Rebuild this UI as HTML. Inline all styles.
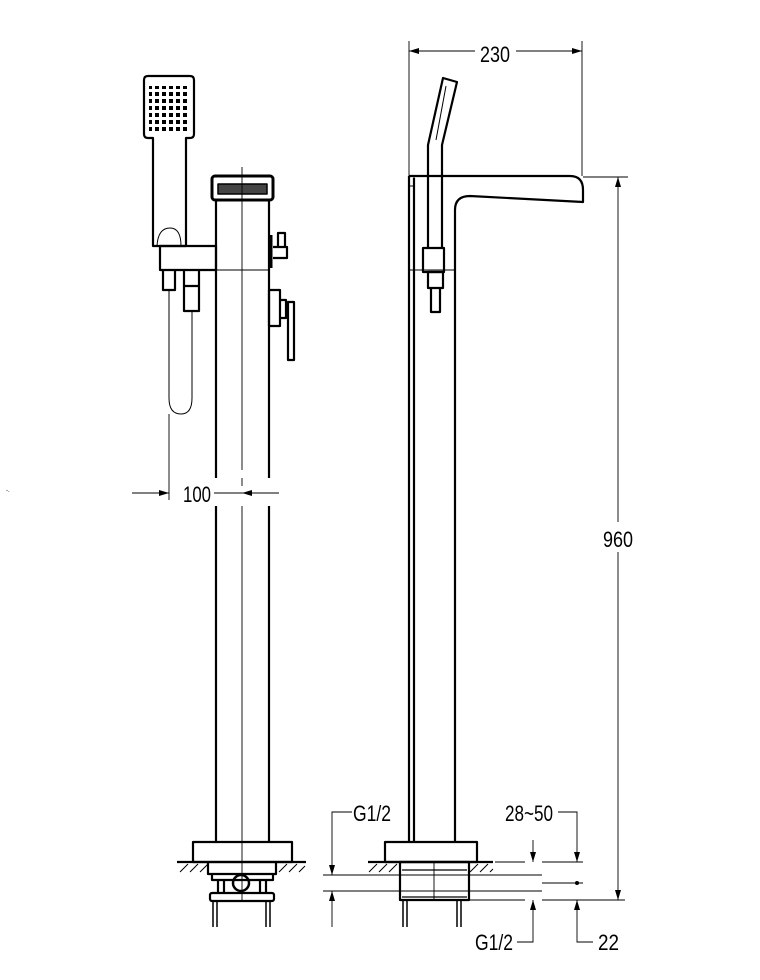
<!DOCTYPE html>
<html><head><meta charset="utf-8"><style>
html,body{margin:0;padding:0;background:#fff;}
svg{display:block;}
text{font-family:"Liberation Sans",sans-serif;font-size:22px;fill:#000;}
</style></head><body>
<svg width="760" height="980" viewBox="0 0 760 980" xmlns="http://www.w3.org/2000/svg">
<defs>
<marker id="a" viewBox="0 0 10 6" refX="10" refY="3" markerWidth="15" markerHeight="6" markerUnits="userSpaceOnUse" orient="auto-start-reverse"><path d="M0,0 L10,3 L0,6 Z" fill="#000"/></marker>
<pattern id="dots" width="7" height="7" patternUnits="userSpaceOnUse"><rect x="1" y="1" width="4" height="4" fill="#000"/></pattern>
</defs>
<g fill="none" stroke="#000" stroke-width="2.2" stroke-linejoin="round">
<path d="M148,76 H190 Q194,76 194,80 V134 Q194,138 190,138 H186 V246 H153 V138 H148 Q144,138 144,134 V80 Q144,76 148,76 Z"/>
<rect x="149" y="86" width="38" height="45" fill="url(#dots)" stroke="none"/>
<path d="M157,246 Q158,228 170,228 Q181,228 181,246" stroke-width="1"/>
<rect x="160" y="246" width="56" height="24"/>
<path d="M163,270 V290 H175 V270 M184,270 V311 H199 V270 M184,286 H199"/>
<path d="M169,290 V398 Q169,414 181,414 Q192,414 192,398 V311" stroke-width="1"/>
<rect x="212" y="176" width="61" height="24" rx="3" stroke-width="3"/>
<rect x="218" y="184" width="49" height="10" fill="#444" stroke-width="1.5"/>
<path d="M216,200 V478 M216,506 V842 M269,200 V478 M269,506 V842"/>
<path d="M216,270 H269" stroke-width="1"/>
<path d="M271,235 V268" stroke-width="3"/>
<path d="M273,247 H287 V258 H273 M278,247 V233 H285 V247"/>
<rect x="269" y="290" width="11" height="36"/>
<path d="M280,300 H286 V318 H280"/>
<rect x="288" y="302" width="6" height="58"/>
<rect x="193" y="842" width="99" height="20"/>
<path d="M177,862 H306" />
<path d="M208,862 V874 H276 V862 M212,874 V880 H273 V874"/>
<path d="M218,880 L218,893 M266,880 V893 M224,880 V893 M260,880 V893"/>
<circle cx="241" cy="883" r="8" stroke-width="2.5"/>
<rect x="210" y="893" width="64" height="8" rx="2"/>
<path d="M213,901 V927 M217,901 V927 M266,901 V927 M270,901 V927" stroke-width="1.5"/>
<path d="M409,176 H570 Q583,176 583,190 V202 L470,196 Q455,196 455,210 V842"/>
<path d="M409,176 V842 M414,178 V842" />
<path d="M414,176 V186 H409" stroke-width="1"/>
<path d="M409,270 H455" stroke-width="1"/>
<path d="M428,248 V145 L443,78 L457,82 L442,145 V248"/>
<path d="M446,86 L436,140" stroke-width="1"/>
<rect x="423" y="248" width="21" height="24"/>
<rect x="428" y="272" width="15" height="16"/>
<path d="M431,288 V312 H440 V288"/>
<rect x="385" y="842" width="92" height="20"/>
<path d="M368,862 H493"/>
<rect x="400" y="862" width="69" height="38"/>
<path d="M402,870 H467 M402,897 H467" stroke-width="1.2"/>
<path d="M403,900 V927 M407,900 V927 M457,900 V927 M461,900 V927" stroke-width="1.5"/>
</g>
<g stroke="#000" stroke-width="1">
<path d="M180,872 L188,864 M190,872 L198,864 M200,872 L208,864 M279,872 L287,864 M289,872 L297,864 M299,872 L305,866"/>
<path d="M369,872 L377,864 M379,872 L387,864 M389,872 L397,864 M470,872 L478,864 M480,872 L488,864 M490,872 L493,869"/>
</g>
<g stroke="#000" stroke-width="0.9" fill="none">
<path d="M242,167 V470 M242,478 V486 M242,506 V902" />
<path d="M420,870 H455 M434,862 V900"/>
<path d="M169,414 V500"/>
<path d="M132,493 H169" marker-end="url(#a)"/>
<path d="M279,493 H242" marker-end="url(#a)"/>
<path d="M214,493 H242"/>
<path d="M409,41 V176 M582,41 V176"/>
<path d="M475,51 H409" marker-end="url(#a)"/>
<path d="M516,51 H582" marker-end="url(#a)"/>
<path d="M583,177 H628" />
<path d="M618,522 V177" marker-end="url(#a)"/>
<path d="M618,552 V900" marker-end="url(#a)"/>
<path d="M323,875 H542 M323,891 H542"/>
<path d="M495,862 H525 M542,862 H583"/>
<path d="M542,883 H583"/>
<path d="M470,900 H525 M542,900 H625"/>
<path d="M352,812 H332 V875" marker-end="url(#a)"/>
<path d="M332,927 V891" marker-end="url(#a)"/>
<path d="M533,840 V862" marker-end="url(#a)"/>
<path d="M517,942 H533 V900" marker-end="url(#a)"/>
<path d="M558,812 H577 V862" marker-end="url(#a)"/>
<path d="M593,942 H577 V900" marker-end="url(#a)"/>
</g>
<circle cx="577" cy="883" r="2" fill="#000"/>
<text x="6" y="492" style="font-size:6px">-.</text>
<text x="183" y="502" textLength="28" lengthAdjust="spacingAndGlyphs">100</text>
<text x="480" y="62" textLength="30" lengthAdjust="spacingAndGlyphs">230</text>
<text x="603" y="547" textLength="30" lengthAdjust="spacingAndGlyphs">960</text>
<text x="353" y="821" textLength="38" lengthAdjust="spacingAndGlyphs">G1/2</text>
<text x="505" y="821" textLength="48" lengthAdjust="spacingAndGlyphs">28~50</text>
<text x="475" y="950" textLength="38" lengthAdjust="spacingAndGlyphs">G1/2</text>
<text x="598" y="950" textLength="21" lengthAdjust="spacingAndGlyphs">22</text>
</svg>
</body></html>
